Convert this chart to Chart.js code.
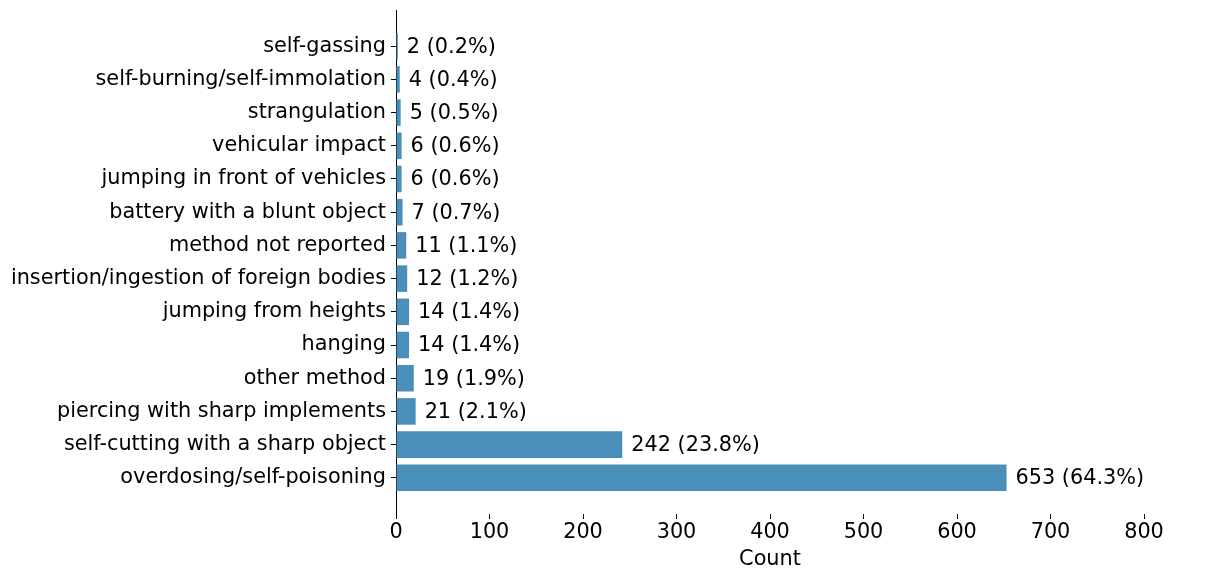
<!DOCTYPE html>
<html>
<head>
  <title>Self-harm methods</title>
  <script src="https://cdn.jsdelivr.net/npm/chart.js"></script>
  <style>
    body { margin: 0; background: #fff; }
  </style>
</head>
<body>
<canvas id="myChart" width="1212" height="579"></canvas>

<script>
// categories, top to bottom as in the picture
var methods = [
  'self-gassing',
  'self-burning/self-immolation',
  'strangulation',
  'vehicular impact',
  'jumping in front of vehicles',
  'battery with a blunt object',
  'method not reported',
  'insertion/ingestion of foreign bodies',
  'jumping from heights',
  'hanging',
  'other method',
  'piercing with sharp implements',
  'self-cutting with a sharp object',
  'overdosing/self-poisoning'
];
var counts = [2, 4, 5, 6, 6, 7, 11, 12, 14, 14, 19, 21, 242, 653];
var xTicks = [0, 100, 200, 300, 400, 500, 600, 700, 800];

var total = counts.reduce(function(a, b) { return a + b; }, 0);
var fontFamily = '"DejaVu Sans", sans-serif';
var fontSize = 20.8;

// write "n (p%)" right of each bar
var barLabels = {
  id: 'barLabels',
  afterDatasetsDraw: function(chart) {
    var ctx = chart.ctx;
    var meta = chart.getDatasetMeta(0);
    ctx.save();
    ctx.font = fontSize + 'px ' + fontFamily;
    ctx.fillStyle = '#000';
    ctx.textAlign = 'left';
    ctx.textBaseline = 'middle';
    meta.data.forEach(function(bar, i) {
      var pct = (counts[i] / total * 100).toFixed(1);
      ctx.fillText(counts[i] + ' (' + pct + '%)', bar.x + 9, bar.y + 1);
    });
    ctx.restore();
  }
};

var ctx = document.getElementById('myChart').getContext('2d');
var chart = new Chart(ctx, {
  type: 'bar',
  data: {
    datasets: [{
      data: counts.map(function(c, i) { return { x: c, y: i }; }),
      backgroundColor: '#4a8fb9',
      borderWidth: 0,
      barPercentage: 0.8,
      categoryPercentage: 1.0
    }]
  },
  options: {
    indexAxis: 'y',
    responsive: false,
    animation: false,
    layout: { padding: { left: 0, right: 68, top: 10, bottom: 0 } },
    plugins: {
      legend: { display: false },
      tooltip: { enabled: false }
    },
    scales: {
      x: {
        type: 'linear',
        min: 0,
        max: 800,
        afterBuildTicks: function(s) { s.ticks = xTicks.map(function(v) { return { value: v }; }); },
        afterFit: function(s) { s.height = 65; s.paddingLeft = 0; s.paddingRight = 0; },
        border: { display: false },
        grid: { drawOnChartArea: false, drawTicks: true, tickLength: 5, color: '#000', lineWidth: 1 },
        ticks: { color: '#000', padding: 1, font: { family: fontFamily, size: fontSize } },
        title: {
          display: true,
          text: 'Count',
          color: '#000',
          font: { family: fontFamily, size: fontSize },
          padding: { top: 0, bottom: 7 }
        }
      },
      y: {
        type: 'linear',
        reverse: true,
        offset: false,
        min: -1.09,
        max: 14.09,
        afterBuildTicks: function(s) { s.ticks = methods.map(function(m, i) { return { value: i }; }); },
        afterFit: function(s) { s.width = 396; s.paddingTop = 0; s.paddingBottom = 0; },
        border: { display: true, color: '#000', width: 1 },
        grid: { offset: false, drawOnChartArea: false, drawTicks: true, tickLength: 5, color: '#000', lineWidth: 1 },
        ticks: {
          color: '#000',
          padding: 5,
          font: { family: fontFamily, size: fontSize },
          callback: function(v) { return methods[v]; }
        }
      }
    }
  },
  plugins: [barLabels]
});
</script>
</body>
</html>
